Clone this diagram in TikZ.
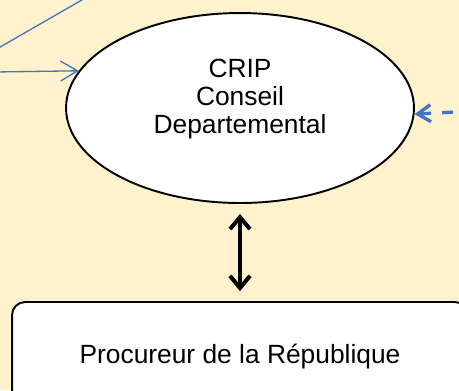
\documentclass[tikz,border=0pt]{standalone}
\usepackage{fontspec}
\setmainfont{Liberation Sans}
\usetikzlibrary{arrows.meta,shapes.geometric}
\definecolor{fondjaune}{HTML}{FFF2CC}
\definecolor{bleulien}{HTML}{4472C4}

\begin{document}
\begin{tikzpicture}[x=0.02cm,y=-0.02cm,
    service/.style={draw, line width=1.1pt, fill=white, ellipse, inner sep=0pt,
        minimum width=6.96cm, minimum height=3.8cm},
    acteur/.style={draw, line width=1.1pt, fill=white, rounded corners=0.26cm,
        inner sep=0pt, minimum width=9.12cm, minimum height=2.2cm},
    libelle/.style={align=center, font=\fontsize{15}{15.9}\selectfont},
    lien/.style={bleulien, line width=0.75pt,
        -{Straight Barb[length=0.34cm,width=0.4cm]}},
    lienpointille/.style={bleulien, line width=1.9pt, dash pattern=on 0.22cm off 0.22cm,
        -{Straight Barb[length=0.26cm,width=0.34cm]}},
    echange/.style={line width=2.3pt,
        {Straight Barb[length=0.24cm,width=0.4cm]}-{Straight Barb[length=0.24cm,width=0.4cm]}}]
    % Background
    \useasboundingbox (0,0) rectangle (459,390);
    \clip (0,0) rectangle (459,390);
    \fill[fondjaune] (0,0) rectangle (459,390);

    % CRIP
    \node[service] (crip) at (240,108) {};
    \node[libelle] (criptexte) at (240,99) {CRIP\\Conseil\\Departemental};

    % Procureur
    \node[acteur, libelle] (procureur) at (240,357) {Procureur de la République};

    % Links coming from outside
    \coordinate (diagbas) at (-12,54);
    \coordinate (diaghaut) at (94,-7);
    \draw[bleulien, line width=0.75pt] (diagbas) -- (diaghaut);
    \coordinate (gauche) at (-5,72);
    \draw[lien] (gauche) -- (crip.167.4);
    \coordinate (droite) at (475,111);
    \draw[lienpointille] (droite) -- (crip.-2);

    % Exchange
    \draw[echange, shorten <=0.2cm, shorten >=0.2cm] (crip.south) -- (procureur.north);
\end{tikzpicture}
\end{document}
